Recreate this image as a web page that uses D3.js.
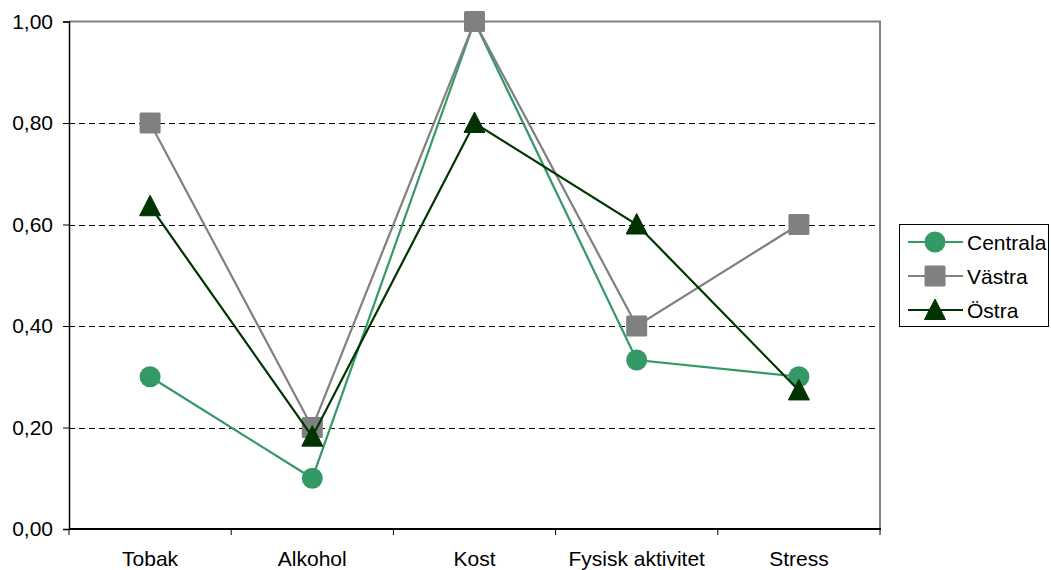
<!DOCTYPE html>
<html>
<head>
<meta charset="utf-8">
<script src="https://cdn.jsdelivr.net/npm/d3@7"></script>
<style>
  html, body { margin: 0; padding: 0; background: #fff; }
  svg { display: block; font-family: "Liberation Sans", Arial, sans-serif; }
</style>
</head>
<body>
<svg id="chart" width="1051" height="570"></svg>
<script>
// Categories and series values
const categories = ["Tobak", "Alkohol", "Kost", "Fysisk aktivitet", "Stress"];
const centrala = [0.30, 0.10, 1.00, 0.333, 0.30];
const vastra   = [0.80, 0.20, 1.00, 0.40, 0.60];
const ostra    = [0.636, 0.182, 0.80, 0.60, 0.273];
const yTicks   = [0, 0.2, 0.4, 0.6, 0.8, 1.0];

const series = [
  { name: "Centrala", values: centrala, color: "#339966", marker: "circle" },
  { name: "Västra",   values: vastra,   color: "#808080", marker: "square" },
  { name: "Östra",    values: ostra,    color: "#003300", marker: "triangle" }
];

const FONT = 21;
const svg = d3.select("#chart");
const plot = { left: 69, right: 880, top: 21.5, bottom: 529 };

const x = d3.scaleBand().domain(categories).range([plot.left, plot.right]);
const y = d3.scaleLinear().domain([0, 1]).range([plot.bottom, plot.top]);

// Horizontal dashed gridlines
svg.append("g")
  .selectAll("line")
  .data(yTicks.filter(d => d > 0 && d < 1))
  .join("line")
  .attr("x1", plot.left).attr("x2", plot.right)
  .attr("y1", d => Math.round(y(d)) + 0.5).attr("y2", d => Math.round(y(d)) + 0.5)
  .attr("stroke", "#000").attr("stroke-width", 1)
  .attr("stroke-dasharray", "6,4");

// Top and right frame
svg.append("path")
  .attr("d", `M${plot.left},${plot.top}H${plot.right}V${plot.bottom}`)
  .attr("fill", "none").attr("stroke", "#808080").attr("stroke-width", 2);

// Y axis
const yAxis = d3.axisLeft(y).tickValues(yTicks).tickSize(6).tickPadding(10)
  .tickFormat(d => d3.format(".2f")(d).replace(".", ","));
const gy = svg.append("g").attr("transform", `translate(${plot.left},0)`).call(yAxis);
gy.select(".domain").attr("stroke", "#000").attr("stroke-width", 1.5);
gy.selectAll(".tick line").attr("stroke", "#000");
gy.selectAll(".tick text").attr("font-size", FONT).attr("fill", "#000")
  .attr("font-family", "Liberation Sans, Arial, sans-serif");

// X axis with ticks at category boundaries
const gx = svg.append("g").attr("transform", `translate(0,${plot.bottom})`);
gx.append("line").attr("x1", plot.left).attr("x2", plot.right + 1)
  .attr("stroke", "#000").attr("stroke-width", 2);
const bounds = categories.map(c => x(c)).concat([x(categories[categories.length - 1]) + x.bandwidth()]);
gx.selectAll("line.tk").data(bounds).join("line").attr("class", "tk")
  .attr("x1", d => d).attr("x2", d => d).attr("y1", 0).attr("y2", 6)
  .attr("stroke", "#000").attr("stroke-width", 1);
gx.selectAll("text").data(categories).join("text")
  .attr("x", d => x(d) + x.bandwidth() / 2).attr("y", 37)
  .attr("text-anchor", "middle").attr("font-size", FONT).attr("fill", "#000")
  .text(d => d);

// Marker drawing
function drawMarker(g, type, color, cx, cy) {
  if (type === "circle") {
    g.append("circle").attr("cx", cx).attr("cy", cy).attr("r", 10.5).attr("fill", color);
  } else if (type === "square") {
    g.append("rect").attr("x", cx - 10.5).attr("y", cy - 10.5).attr("width", 21).attr("height", 21)
      .attr("rx", 1.5).attr("fill", color);
  } else {
    g.append("path").attr("d", `M${cx},${cy - 11}L${cx + 10.5},${cy + 9.5}L${cx - 10.5},${cy + 9.5}Z`)
      .attr("fill", color).attr("stroke", color).attr("stroke-width", 1).attr("stroke-linejoin", "round");
  }
}

const cxOf = i => x(categories[i]) + x.bandwidth() / 2;
const line = d3.line().x((d, i) => cxOf(i)).y(d => y(d));

series.forEach(s => {
  const g = svg.append("g");
  g.append("path").datum(s.values).attr("d", line)
    .attr("fill", "none").attr("stroke", s.color).attr("stroke-width", 2.2);
  s.values.forEach((v, i) => drawMarker(g, s.marker, s.color, cxOf(i), y(v)));
});

// Legend
const lg = svg.append("g").attr("transform", "translate(899,224)");
lg.append("rect").attr("x", 0.5).attr("y", 0.5).attr("width", 149).attr("height", 102)
  .attr("fill", "#fff").attr("stroke", "#000").attr("stroke-width", 1);
series.forEach((s, i) => {
  const cy = 18 + i * 34;
  const row = lg.append("g");
  row.append("line").attr("x1", 9).attr("x2", 64).attr("y1", cy).attr("y2", cy)
    .attr("stroke", s.color).attr("stroke-width", 2.2);
  drawMarker(row, s.marker, s.color, 36, cy);
  row.append("text").attr("x", 68).attr("y", cy + 7.5).attr("font-size", FONT).attr("fill", "#000").text(s.name);
});
</script>
</body>
</html>
